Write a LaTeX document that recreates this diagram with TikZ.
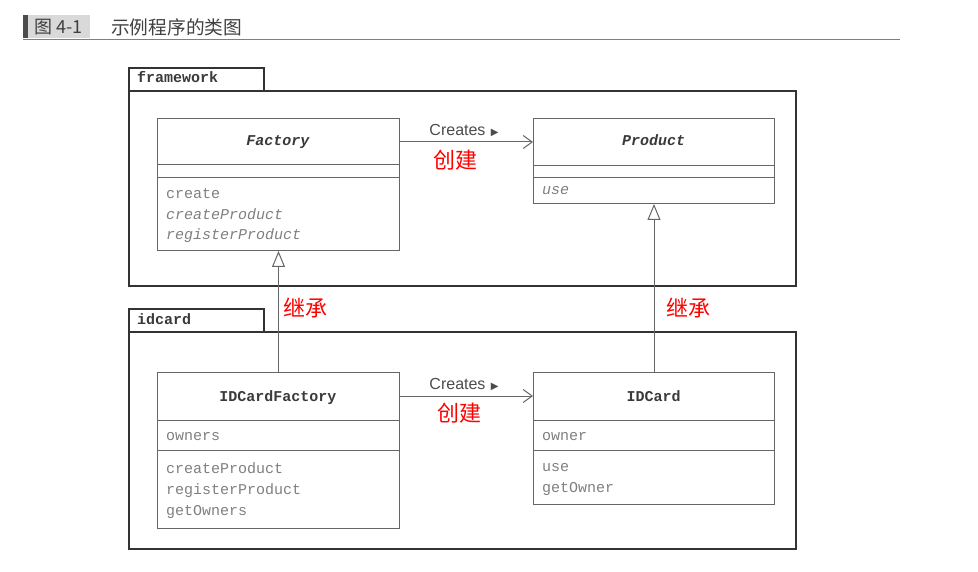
\documentclass[tikz,border=0pt]{standalone}
\usepackage{fontspec}
\setmainfont{Liberation Sans}
\newfontfamily\monof{Liberation Mono}
\newfontfamily\cjk{Noto Sans CJK SC}
\newfontfamily\symf{DejaVu Sans}
\usetikzlibrary{arrows.meta}
\definecolor{linec}{HTML}{666666}
\definecolor{pkgc}{HTML}{333333}
\definecolor{txtc}{HTML}{808080}
\definecolor{namec}{HTML}{3A3A3A}
\tikzset{
  pkgtab/.style={draw=pkgc, line width=1.8pt, anchor=north west, minimum width=135pt, minimum height=23pt, inner sep=0pt},
  pkgbox/.style={draw=pkgc, line width=1.8pt, anchor=north west, inner sep=0pt},
  pkgname/.style={anchor=base west, inner sep=0pt, text=namec, font=\monof\bfseries\fontsize{15}{15}\selectfont},
  cls/.style={draw=linec, line width=1pt, anchor=north west, inner sep=0pt, fill=white},
  clsline/.style={draw=linec, line width=1pt},
  clsname/.style={anchor=base, inner sep=0pt, text=namec, font=\monof\bfseries\fontsize{15}{15}\selectfont},
  member/.style={anchor=base west, inner sep=0pt, text=txtc, font=\monof\fontsize{15}{15}\selectfont},
  assoc/.style={draw=linec, line width=1pt, -{Straight Barb[length=9pt,width=13pt]}},
  inh/.style={draw=linec, line width=1pt, -{Triangle[open, fill=white, length=16pt, width=13pt]}},
  rel/.style={anchor=base, inner sep=0pt, text=black!70, font=\fontsize{16}{16}\selectfont},
  cn/.style={inner sep=0pt, text=red, font=\cjk\fontsize{22}{22}\selectfont},
}
\begin{document}
\begin{tikzpicture}[x=1pt,y=-1pt]
\useasboundingbox[fill=white] (0,0) rectangle (978,572);
% header
\fill[gray!30] (28,15) rectangle (90,38);
\fill[black!70] (23,15) rectangle (28,38);
\node[anchor=west, inner sep=0pt, text=black!75, font=\cjk\fontsize{18}{18}\selectfont] (fignum) at (34,27) {图 4-1};
\node[anchor=west, inner sep=0pt, text=black!75, font=\cjk\fontsize{18.7}{18.7}\selectfont] (figtitle) at (111,27) {示例程序的类图};
\draw[gray, line width=1pt] (23,39.5) -- (900,39.5);

% framework package
\node[pkgtab] (fwtab) at (128,67) {};
\node[pkgname] (fwname) at (137,83) {framework};
\node[pkgbox, minimum width=667pt, minimum height=195pt] (fw) at (128,90) {};

% idcard package
\node[pkgtab] (idtab) at (128,308) {};
\node[pkgname] (idname) at (137,324) {idcard};
\node[pkgbox, minimum width=667pt, minimum height=217pt] (idp) at (128,331) {};

% Factory
\node[cls, minimum width=242pt, minimum height=132pt] (factory) at (157,118) {};
\node[clsname] (factoryname) at (278,146) {\itshape Factory};
\draw[clsline] (157,165) -- (399,165);
\draw[clsline] (157,178) -- (399,178);
\node[member] (f1) at (166,199) {create};
\node[member] (f2) at (166,219.5) {\itshape createProduct};
\node[member] (f3) at (166,240) {\itshape registerProduct};

% Product
\node[cls, minimum width=241pt, minimum height=85pt] (product) at (533,118) {};
\node[clsname] (productname) at (653.5,146) {\itshape Product};
\draw[clsline] (533,166) -- (774,166);
\draw[clsline] (533,178) -- (774,178);
\node[member] (p1) at (542,194.5) {\itshape use};

% IDCardFactory
\node[cls, minimum width=242pt, minimum height=156pt] (idfactory) at (157,372) {};
\node[clsname] (idfactoryname) at (278,401) {IDCardFactory};
\draw[clsline] (157,420) -- (399,420);
\draw[clsline] (157,450) -- (399,450);
\node[member] (g1) at (166,440.5) {owners};
\node[member] (g2) at (166,473) {createProduct};
\node[member] (g3) at (166,494) {registerProduct};
\node[member] (g4) at (166,515) {getOwners};

% IDCard
\node[cls, minimum width=241pt, minimum height=132pt] (idcard) at (533,372) {};
\node[clsname] (idcardname) at (653.5,401) {IDCard};
\draw[clsline] (533,420) -- (774,420);
\draw[clsline] (533,450) -- (774,450);
\node[member] (c1) at (542,440.5) {owner};
\node[member] (c2) at (542,471.5) {use};
\node[member] (c3) at (542,492) {getOwner};

% associations
\coordinate (a1) at (399,142);
\coordinate (a2) at (399,396);
\draw[assoc] (a1 -| factory.east) -- (a1 -| product.west);
\draw[assoc] (a2 -| idfactory.east) -- (a2 -| idcard.west);
\node[rel] (cr1) at (464,135.5) {Creates\,\,{\symf\fontsize{10}{10}\selectfont ▶}};
\node[rel] (cr2) at (464,389) {Creates\,\,{\symf\fontsize{10}{10}\selectfont ▶}};
\node[cn] (cj1) at (455,160) {创建};
\node[cn] (cj2) at (459,413) {创建};

% inheritance
\draw[inh] (idfactory.north) -- (factory.south);
\draw[inh] (idcard.north) -- (product.south);
\node[cn] (jc1) at (305,308) {继承};
\node[cn] (jc2) at (688,308) {继承};
\end{tikzpicture}
\end{document}
